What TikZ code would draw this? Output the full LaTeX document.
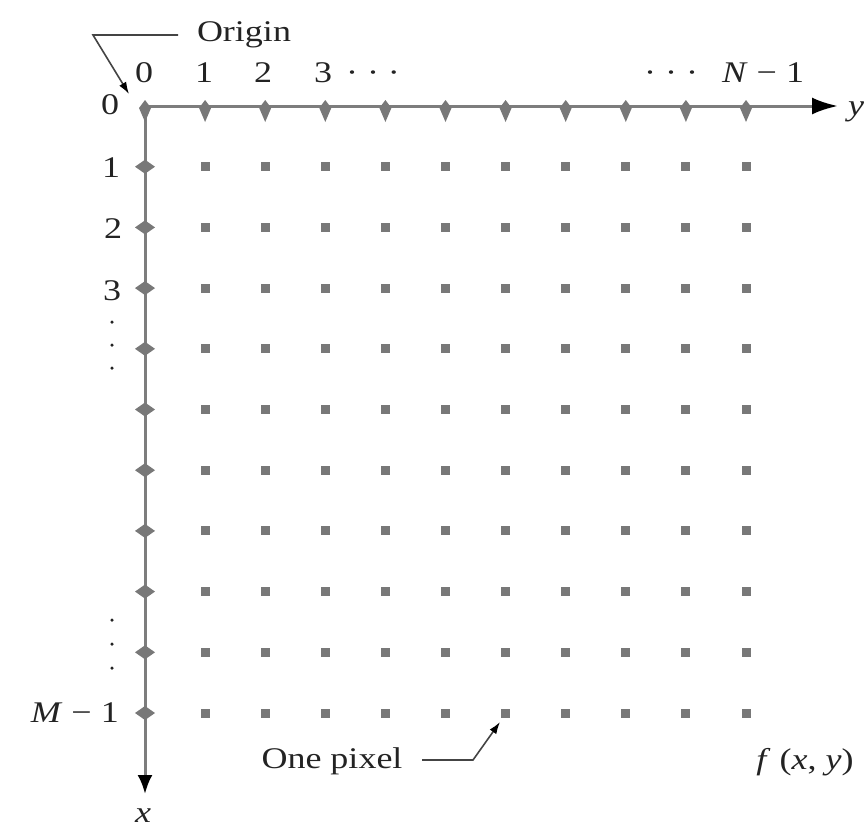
\documentclass[tikz,border=0pt]{standalone}
\usepackage{fontspec}
\setmainfont{Liberation Serif}[FakeStretch=1.2]
\usetikzlibrary{arrows.meta}
\definecolor{axisgray}{RGB}{125,125,125}
\definecolor{dotgray}{RGB}{120,120,120}
\definecolor{inkc}{RGB}{35,35,35}
\begin{document}
\begin{tikzpicture}[x=1pt,y=-1pt,
  lbl/.style={font=\fontsize{30}{36}\selectfont, text=inkc, inner sep=0pt, anchor=base},
  pix/.style={rectangle, fill=dotgray, minimum size=9pt, inner sep=0pt},
  axisline/.style={draw=axisgray, line width=3pt},
  leader/.style={draw=inkc!85, line width=1.6pt},
  ellip/.style={circle, fill=inkc, minimum size=3.5pt, inner sep=0pt}]
\useasboundingbox (0,0) rectangle (865,830);
% axes
\coordinate (O) at (145,106);
\coordinate (yend) at (838,106);
\coordinate (xend) at (145,794);
\draw[axisline, -{Latex[length=26pt,width=17pt,color=black]}] (O) -- (yend);
\draw[axisline, -{Latex[length=19pt,width=15pt,color=black]}] (O) -- (xend);
% axis marks
\foreach \j in {0,...,10} {
  \pgfmathsetmacro{\cx}{145+60.1*\j}
  \coordinate (a-\j) at (\cx,106);
  \fill[dotgray, shift={(a-\j)}] (0,-6) -- (6,2) -- (0,16) -- (-6,2) -- cycle;
}
\foreach \i in {1,...,10} {
  \pgfmathsetmacro{\ry}{106+60.7*\i}
  \coordinate (b-\i) at (145,\ry);
  \fill[dotgray, shift={(b-\i)}] (-10,0) -- (0,-7) -- (10,0) -- (0,7) -- cycle;
}
% grid of pixels
\foreach \i in {1,...,10} {
  \foreach \j in {1,...,10} {
    \pgfmathsetmacro{\cx}{145+60.1*\j}
    \pgfmathsetmacro{\ry}{106+60.7*\i}
    \node[pix] (p-\i-\j) at (\cx,\ry) {};
  }
}
% top labels
\node[lbl] (t0) at (144,82) {0};
\node[lbl] (t1) at (204,82) {1};
\node[lbl] (t2) at (263,82) {2};
\node[lbl] (t3) at (323,82) {3};
\node[lbl] (td1) at (373,82) {· · ·};
\node[lbl] (td2) at (671,82) {· · ·};
\node[lbl] (tN) at (763,82) {\textit{N} − 1};
% left labels
\node[lbl] (r0) at (110,114) {0};
\node[lbl] (r1) at (111,177) {1};
\node[lbl] (r2) at (113,238) {2};
\node[lbl] (r3) at (112,300) {3};
\node[lbl, anchor=base east] (rM) at (119,722) {\textit{M} − 1};
\node[ellip] (e1) at (112,322) {};
\node[ellip] (e2) at (112,345) {};
\node[ellip] (e3) at (112,368) {};
\node[ellip] (e4) at (112,620) {};
\node[ellip] (e5) at (112,644) {};
\node[ellip] (e6) at (112,668) {};
% axis names
\node[lbl] (ylab) at (856,115) {\textit{y}};
\node[lbl] (xlab) at (143,822) {\textit{x}};
% origin leader
\node[lbl] (orig) at (244,41) {Origin};
\coordinate (ol) at (178,35);
\coordinate (ob) at (93,35);
\coordinate (ot) at (129,94);
\draw[leader, -{Latex[length=12pt,width=8pt,color=black]}] (ol) -- (ob) -- (ot);
% one pixel leader
\node[lbl] (onepix) at (332,768) {One pixel};
\coordinate (pl) at (422,760);
\coordinate (pb) at (473,760);
\coordinate (pt) at (500,722);
\draw[leader, -{Latex[length=12pt,width=8pt,color=black]}] (pl) -- (pb) -- (pt);
% function label
\node[lbl] (fxy) at (805,769) {\textit{f} (\textit{x}, \textit{y})};
\end{tikzpicture}
\end{document}
